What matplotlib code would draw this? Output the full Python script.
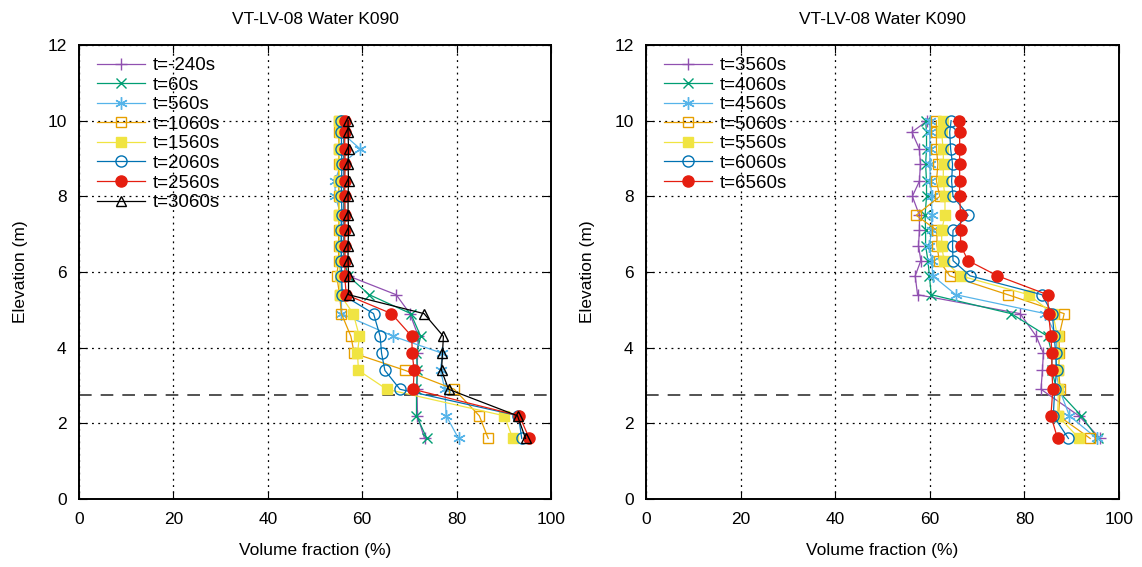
import matplotlib
matplotlib.use("Agg")
import matplotlib.pyplot as plt

plt.rcParams["font.family"] = ["Liberation Sans", "DejaVu Sans"]

# ----------------------------------------------------------------------
# data: elevations (m) and volume fraction (%) per time step
# ----------------------------------------------------------------------
ELEV = [10.0, 9.7, 9.25, 8.85, 8.4, 8.0, 7.5, 7.1, 6.7, 6.3, 5.9, 5.4,
        4.9, 4.3, 3.85, 3.4, 2.9, 2.2, 1.6]

LEFT_LABELS = ["t=-240s", "t=60s", "t=560s", "t=1060s",
               "t=1560s", "t=2060s", "t=2560s", "t=3060s"]
LEFT_VALUES = [
    [56.0, 56.1, 56.0, 56.1, 56.0, 56.1, 56.0, 56.1, 56.0, 56.1, 57.0, 67.2,
     70.1, 71.9, 71.7, 71.6, 71.6, 71.7, 73.2],
    [56.2, 56.2, 56.1, 56.2, 56.2, 56.1, 56.2, 56.2, 56.1, 56.2, 57.0, 61.5,
     70.3, 72.4, 71.5, 71.7, 71.5, 71.5, 73.7],
    [55.5, 55.5, 59.6, 55.5, 54.2, 54.3, 55.5, 55.5, 55.5, 55.5, 55.5, 55.6,
     55.6, 66.6, 77.0, 76.6, 77.5, 77.8, 80.4],
    [55.0, 55.0, 55.1, 55.0, 55.0, 55.0, 55.1, 55.0, 55.0, 55.0, 54.6, 55.2,
     55.6, 57.6, 58.3, 69.1, 79.5, 84.8, 86.7],
    [55.1, 55.2, 55.1, 55.2, 55.1, 55.2, 55.1, 55.2, 55.2, 55.2, 55.2, 55.3,
     58.1, 59.4, 59.0, 59.2, 65.2, 90.1, 91.9],
    [55.6, 55.6, 55.6, 55.7, 55.6, 55.6, 55.7, 55.6, 55.6, 55.6, 55.6, 55.8,
     62.4, 63.8, 64.1, 64.8, 68.0, 93.1, 93.8],
    [56.3, 56.3, 56.3, 56.4, 56.3, 56.3, 56.4, 56.3, 56.3, 56.4, 56.3, 56.6,
     66.2, 70.5, 70.6, 71.0, 70.8, 93.3, 95.4],
    [57.0, 57.0, 57.1, 57.0, 57.1, 57.0, 57.0, 57.1, 57.0, 57.0, 57.1, 57.1,
     73.1, 77.2, 77.0, 76.8, 78.3, 92.9, 94.6],
]

RIGHT_LABELS = ["t=3560s", "t=4060s", "t=4560s", "t=5060s",
                "t=5560s", "t=6060s", "t=6560s"]
RIGHT_VALUES = [
    [59.5, 56.2, 57.8, 58.0, 57.8, 56.3, 57.8, 57.8, 57.6, 58.1, 56.9, 57.4,
     79.1, 82.5, 84.0, 83.8, 83.5, 91.5, 96.0],
    [59.1, 59.3, 59.3, 59.1, 59.3, 59.3, 59.0, 59.1, 59.1, 59.6, 59.9, 60.3,
     77.2, 84.9, 85.8, 85.8, 86.8, 92.0, 95.5],
    [60.1, 60.0, 60.0, 60.0, 60.1, 60.4, 60.4, 60.4, 59.9, 60.4, 60.6, 65.5,
     84.4, 86.8, 86.8, 86.6, 87.4, 89.5, 95.3],
    [61.4, 61.4, 61.4, 61.7, 61.4, 62.1, 57.1, 61.5, 61.5, 62.0, 64.2, 76.5,
     88.4, 87.3, 87.4, 87.2, 87.6, 87.2, 93.9],
    [62.7, 62.5, 62.8, 62.9, 62.8, 63.2, 63.2, 62.5, 62.5, 63.0, 66.5, 80.9,
     86.0, 87.0, 87.2, 87.2, 87.2, 87.0, 91.6],
    [64.5, 64.2, 64.4, 64.8, 64.6, 64.9, 68.1, 64.9, 64.8, 64.9, 68.5, 83.7,
     85.9, 86.3, 86.6, 86.8, 86.4, 86.1, 89.3],
    [66.1, 66.3, 66.3, 66.3, 66.3, 66.3, 66.5, 66.5, 66.5, 68.1, 74.3, 84.9,
     85.1, 85.6, 85.8, 85.8, 86.0, 85.6, 87.0],
]

LEVEL_LINE = 2.75   # dashed reference elevation
TITLE = "VT-LV-08 Water K090"

# line styles (gnuplot-like)
STYLES = [
    dict(color="#9050b0", marker="+", mfc="none", ms=9),
    dict(color="#009e73", marker="x", mfc="none", ms=7.5),
    dict(color="#56b4e9", marker=(6, 2, 0), mfc="none", ms=9),
    dict(color="#e69f00", marker="s", mfc="none", ms=7.5),
    dict(color="#f0e442", marker="s", mfc="#f0e442", ms=7.5),
    dict(color="#0072b2", marker="o", mfc="none", ms=8),
    dict(color="#e51e10", marker="o", mfc="#e51e10", ms=8),
    dict(color="black", marker="^", mfc="none", ms=7),
]


def draw(ax, labels, values):
    for lab, vals, st in zip(labels, values, STYLES):
        ax.plot(vals, ELEV, label=lab, lw=0.9, mew=1.0, **st)
    ax.axhline(LEVEL_LINE, color="#444444", lw=1.3, ls=(0, (7, 5)), zorder=1)
    ax.set_xlim(0, 100)
    ax.set_ylim(0, 12)
    ax.set_xticks(range(0, 101, 20))
    ax.set_yticks(range(0, 13, 2))
    ax.grid(True, color="black", ls=(0, (1.5, 3.5)), lw=0.9)
    ax.tick_params(direction="in", top=True, right=True, length=6,
                   labelsize=12.5, pad=9)
    for sp in ax.spines.values():
        sp.set_linewidth(1.4)
    ax.set_xlabel("Volume fraction (%)", fontsize=12.5, labelpad=12)
    ax.set_ylabel("Elevation (m)", fontsize=12.5, labelpad=14)
    ax.set_title(TITLE, fontsize=12.5, pad=15)
    ax.legend(loc="upper left", bbox_to_anchor=(0.024, 0.988),
              borderaxespad=0, frameon=False, fontsize=13.5,
              handlelength=2.56, labelspacing=0.13, borderpad=0.35,
              handletextpad=0.42)


fig = plt.figure(figsize=(11.42, 5.67), dpi=100)
ax1 = fig.add_axes([0.0692, 0.1199, 0.4133, 0.8007])
ax2 = fig.add_axes([0.5657, 0.1199, 0.4142, 0.8007])

draw(ax1, LEFT_LABELS, LEFT_VALUES)
draw(ax2, RIGHT_LABELS, RIGHT_VALUES)

fig.savefig("out.png", dpi=100)
